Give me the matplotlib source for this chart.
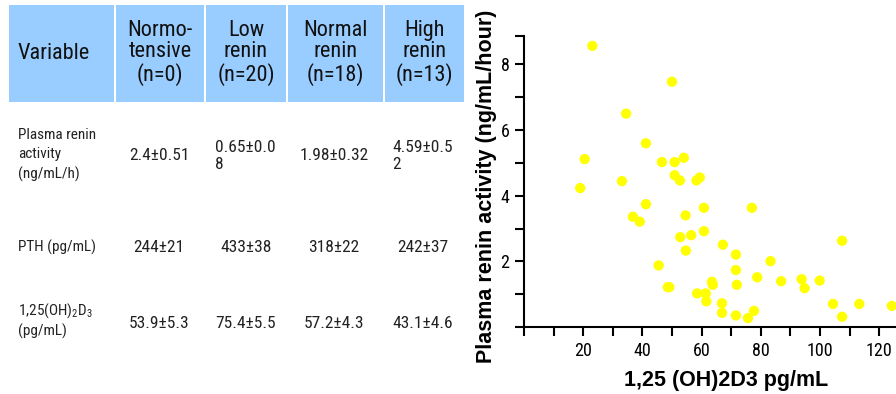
import matplotlib
matplotlib.use('Agg')
import matplotlib.pyplot as plt
from matplotlib.patches import Rectangle

# table data
headers = ['Variable', 'Normo-\ntensive\n(n=0)', 'Low\nrenin\n(n=20)', 'Normal\nrenin\n(n=18)', 'High\nrenin\n(n=13)']
row_labels = ['Plasma renin\nactivity\n(ng/mL/h)', 'PTH (pg/mL)', '1,25(OH)$_2$D$_3$\n(pg/mL)']
renin_vals = ['2.4±0.51', '0.65±0.0\n8', '1.98±0.32', '4.59±0.5\n2']
pth_vals = ['244±21', '433±38', '318±22', '242±37']
d3_vals = ['53.9±5.3', '75.4±5.5', '57.2±4.3', '43.1±4.6']

# scatter data
vitd = [23.1, 50.0, 34.5, 41.2, 20.5, 46.6, 50.9, 54.0, 50.9, 52.7, 58.3, 59.4, 19.0,
        33.1, 41.2, 36.8, 39.1, 54.6, 60.8, 77.0, 52.8, 56.5, 60.8, 54.7, 67.2, 71.6,
        107.5, 45.5, 83.3, 71.6, 78.8, 86.9, 93.8, 94.8, 99.9, 63.5, 63.8, 71.9, 48.6,
        49.1, 58.5, 61.4, 61.6, 66.9, 66.9, 71.6, 75.7, 77.7, 104.4, 107.5, 113.3, 124.3]
pra = [8.55, 7.46, 6.49, 5.59, 5.11, 5.02, 5.02, 5.15, 4.62, 4.46, 4.46, 4.55, 4.23,
       4.44, 3.74, 3.36, 3.21, 3.40, 3.63, 3.63, 2.74, 2.80, 2.92, 2.33, 2.51, 2.21,
       2.63, 1.88, 2.01, 1.74, 1.52, 1.40, 1.46, 1.19, 1.42, 1.38, 1.29, 1.29, 1.22,
       1.22, 1.03, 1.03, 0.79, 0.73, 0.44, 0.36, 0.28, 0.50, 0.71, 0.32, 0.71, 0.65]

cond = 'Roboto Condensed'
plt.rcParams['mathtext.fontset'] = 'custom'
plt.rcParams['mathtext.rm'] = cond
plt.rcParams['mathtext.default'] = 'regular'

fig = plt.figure(figsize=(8.96, 3.94), dpi=100)

# table drawn in pixel coordinates
tab = fig.add_axes([0, 0, 1, 1])
tab.set_xlim(0, 896)
tab.set_ylim(394, 0)
tab.axis('off')

cell_x = [(9, 114), (116, 204), (206, 286), (288, 383), (385, 464)]
for (x0, x1), h in zip(cell_x, headers):
    tab.add_patch(Rectangle((x0, 5), x1 - x0, 97, color='#99CCFF', lw=0))
    if h == 'Variable':
        tab.text(18, 53, h, ha='left', va='center', fontsize=16, family=cond, color='#111111')
    else:
        tab.text((x0 + x1) / 2, 53, h, ha='center', va='center', fontsize=16,
                 family=cond, color='#111111', linespacing=1.05)

tab.text(18, 155, row_labels[0], ha='left', va='center', fontsize=11, family=cond,
         color='#222222', linespacing=1.5)
tab.text(18, 247, row_labels[1], ha='left', va='center', fontsize=11, family=cond, color='#222222')
tab.text(18, 320, row_labels[2], ha='left', va='center', fontsize=11, family=cond,
         color='#222222', linespacing=1.3)

centers = [159, 246, 334, 423]
for i, v in enumerate(renin_vals):
    if '\n' in v:
        tab.text(centers[i] - 31, 156, v, ha='left', va='center', fontsize=12.5, family=cond,
                 color='#222222', linespacing=1.2)
    else:
        tab.text(centers[i], 155, v, ha='center', va='center', fontsize=12.5, family=cond,
                 color='#222222')
for i, v in enumerate(pth_vals):
    tab.text(centers[i], 247, v, ha='center', va='center', fontsize=12.5, family=cond, color='#222222')
for i, v in enumerate(d3_vals):
    tab.text(centers[i], 323, v, ha='center', va='center', fontsize=12.5, family=cond, color='#222222')

# scatter plot
ax = fig.add_axes([524 / 896, (394 - 327.3) / 394, (896 - 524) / 896, (327.3 - 36) / 394])
ax.scatter(vitd, pra, s=55, color='#FFFF00', edgecolors='none', zorder=3)
ax.set_xlim(0, 125.7)
ax.set_ylim(0, 8.85)
for side in ['top', 'right']:
    ax.spines[side].set_visible(False)
for side in ['left', 'bottom']:
    ax.spines[side].set_linewidth(1.5)

ax.set_xticks(range(0, 130, 10))
ax.set_xticklabels(['' if t < 20 or t % 20 else str(t) for t in range(0, 130, 10)])
ax.set_yticks([0, 1, 2, 3, 4, 5, 6, 7, 8, 8.85])
ax.set_yticklabels(['', '', '2', '', '4', '', '6', '', '8', ''])
ax.tick_params(direction='out', length=6.5, width=1.5, labelsize=13, pad=4)
for lab in ax.get_xticklabels() + ax.get_yticklabels():
    lab.set_fontfamily(cond)

ax.set_xlabel('1,25 (OH)2D3 pg/mL', fontsize=15.5, fontweight='bold', family='Liberation Sans')
ax.set_ylabel('Plasma renin activity (ng/mL/hour)', fontsize=15.5, fontweight='bold',
              family='Liberation Sans')
ax.xaxis.set_label_coords((726 - 524) / 372, (327.3 - 370) / 291.3)
ax.yaxis.set_label_coords((497 - 524) / 372, (327.3 - 186) / 291.3)

fig.savefig('out.png')
